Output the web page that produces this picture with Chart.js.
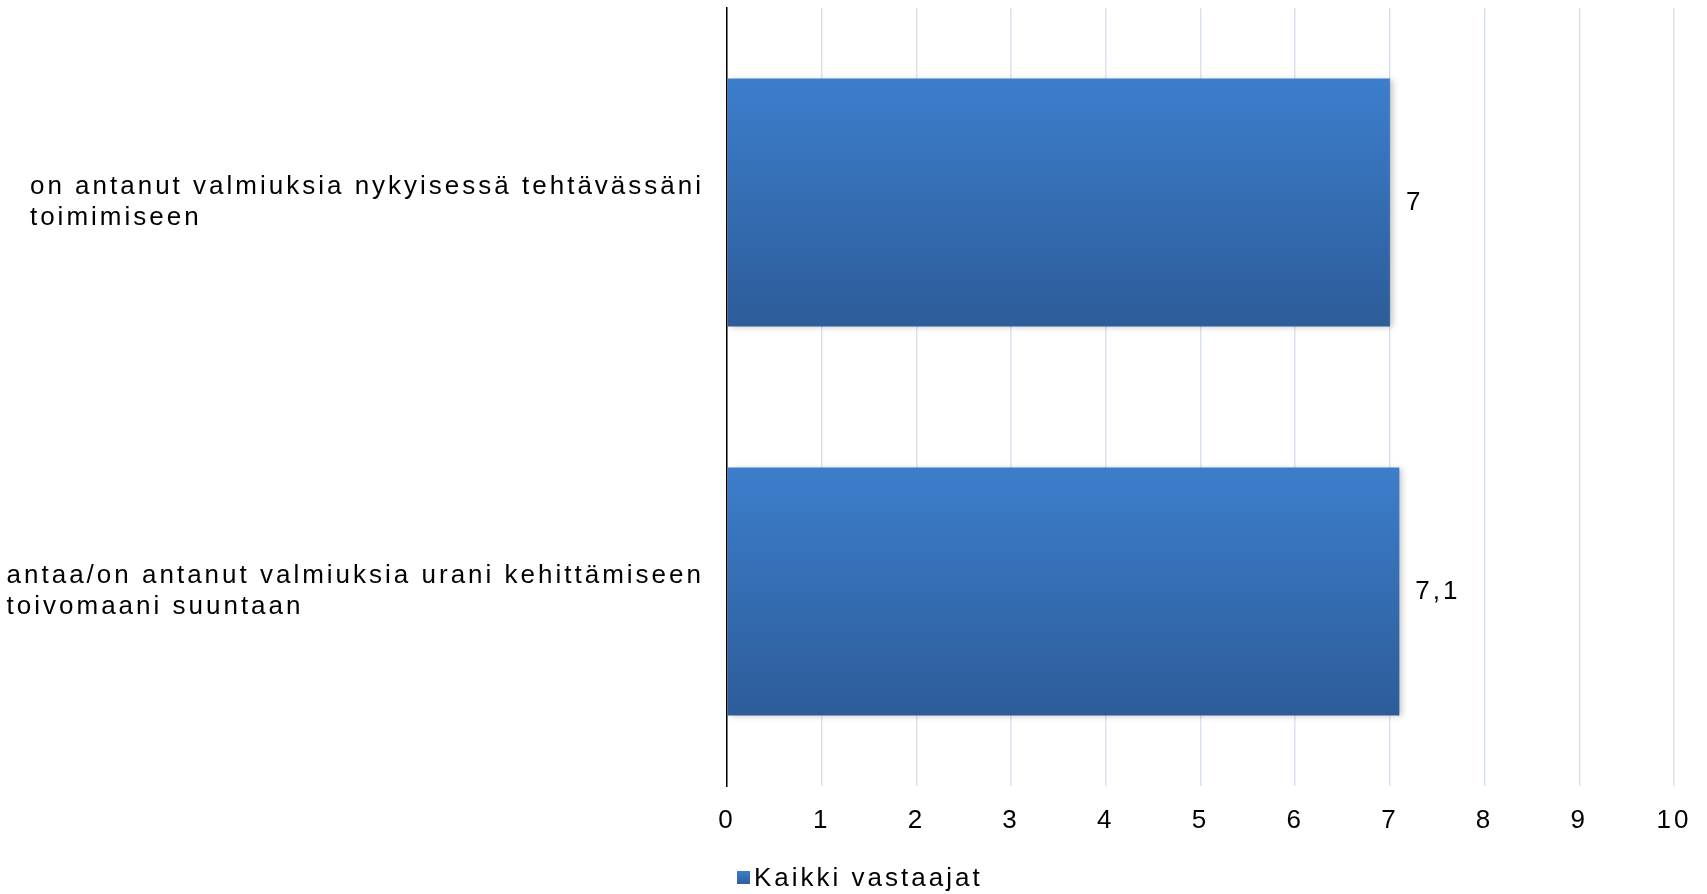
<!DOCTYPE html>
<html>
<head>
<meta charset="utf-8">
<script src="https://cdn.jsdelivr.net/npm/chart.js@4.4.0/dist/chart.umd.min.js"></script>
<style>
	html, body { margin: 0; padding: 0; background: #ffffff; overflow: hidden; }
</style>
</head>
<body>
<canvas id="myChart" width="1707" height="894"></canvas>
<script>
// Data block
const categories = [
	["on antanut valmiuksia nykyisessä tehtävässäni", "toimimiseen"],
	["antaa/on antanut valmiuksia urani kehittämiseen", "toivomaani suuntaan"],
];
const seriesName = "Kaikki vastaajat";
const values = [7, 7.1];
const valueLabels = ["7", "7,1"];
const axisMin = 0;
const axisMax = 10;
const axisStep = 1;

const FAMILY = '"Liberation Sans", Arial, sans-serif';
const FSIZE = 26;
const SPACING = "3px";
const barPct = 0.637;

function barGradient(ctx, top, bottom) {
	const g = ctx.createLinearGradient(0, top, 0, bottom);
	g.addColorStop(0, "#3C7ECC");
	g.addColorStop(1, "#2D5C99");
	return g;
}

// letter spacing, canvas state is reset on resize so set it often
const spacingPlugin = {
	id: "spacing",
	beforeUpdate(chart) { chart.ctx.letterSpacing = SPACING; },
	beforeLayout(chart) { chart.ctx.letterSpacing = SPACING; },
	beforeDraw(chart) { chart.ctx.letterSpacing = SPACING; },
};

// category labels, value labels, legend
const labelsPlugin = {
	id: "labels",
	beforeDatasetsDraw(chart) {
		const ctx = chart.ctx;
		ctx.save();
		ctx.shadowColor = "rgba(0,0,0,0.22)";
		ctx.shadowBlur = 6;
		ctx.shadowOffsetX = 3;
		ctx.shadowOffsetY = 1;
	},
	afterDatasetsDraw(chart) {
		chart.ctx.restore();
	},
	afterDraw(chart) {
		const ctx = chart.ctx;
		const ys = chart.scales.y;
		ctx.save();
		ctx.letterSpacing = SPACING;
		ctx.font = FSIZE + "px " + FAMILY;
		ctx.fillStyle = "#000000";
		ctx.textBaseline = "middle";
		const lineH = 31.5;
		const rightEdge = chart.chartArea.left - 23;
		categories.forEach((lines, i) => {
			const cy = ys.getPixelForValue(i);
			let w = 0;
			lines.forEach((l) => { w = Math.max(w, ctx.measureText(l).width); });
			const x0 = rightEdge - w;
			ctx.textAlign = "left";
			lines.forEach((l, j) => {
				ctx.fillText(l, x0, cy + (j - (lines.length - 1) / 2) * lineH);
			});
		});
		// value labels
		const meta = chart.getDatasetMeta(0);
		meta.data.forEach((bar, i) => {
			ctx.textAlign = "left";
			ctx.fillText(valueLabels[i], bar.x + 16, bar.y);
		});
		// legend
		const lx = 737, ly = 878;
		ctx.fillStyle = barGradient(ctx, ly - 7, ly + 7);
		ctx.fillRect(lx, ly - 7, 13, 13);
		ctx.fillStyle = "#000000";
		ctx.fillText(seriesName, lx + 17, ly + 1);
		ctx.restore();
	},
};

function mainChart() {
	const data = {
		labels: categories,
		datasets: [
			{
				label: seriesName,
				data: values,
				categoryPercentage: barPct,
				barPercentage: 1,
				borderWidth: 0,
				backgroundColor: function (c) {
					const chart = c.chart;
					const ys = chart.scales.y;
					if (!ys || c.dataIndex === undefined) return "#3570BA";
					const cy = ys.getPixelForValue(c.dataIndex);
					const h = (ys.height / categories.length) * barPct;
					if (!isFinite(cy) || !isFinite(h) || h <= 0) return "#3570BA";
					return barGradient(chart.ctx, cy - h / 2, cy + h / 2);
				},
			},
		],
	};

	const options = {
		indexAxis: "y",
		responsive: false,
		animation: false,
		layout: {
			padding: { top: 8, right: 33, bottom: 48, left: 0 },
		},
		plugins: {
			legend: { display: false },
			tooltip: { enabled: false },
		},
		scales: {
			x: {
				min: axisMin,
				max: axisMax,
				afterFit: function (scale) {
					scale.height = 60;
					scale.paddingLeft = 0;
					scale.paddingRight = 0;
				},
				grid: {
					color: "#D9E2EF",
					lineWidth: 1.5,
					drawTicks: false,
				},
				border: { display: false },
				ticks: {
					stepSize: axisStep,
					color: "#000000",
					padding: 19,
					font: { family: FAMILY, size: FSIZE },
				},
			},
			y: {
				afterFit: function (scale) { scale.width = 727; },
				grid: { display: false, drawTicks: false },
				border: { display: true, color: "#000000", width: 1.5 },
				ticks: { display: false },
			},
		},
	};

	const config = {
		type: "bar",
		data: data,
		options: options,
		plugins: [spacingPlugin, labelsPlugin],
	};

	const myChart = new Chart(document.getElementById("myChart"), config);
}

mainChart();
</script>
</body>
</html>
